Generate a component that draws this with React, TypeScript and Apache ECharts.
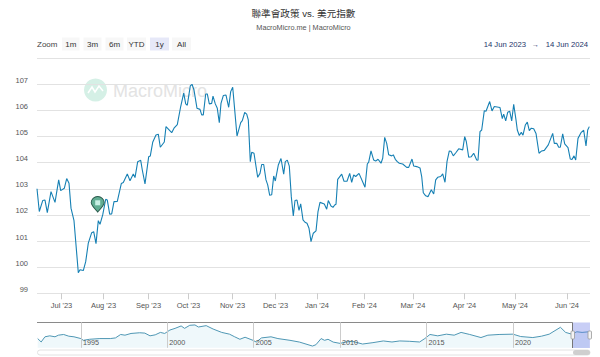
import React, { useEffect, useRef } from "react";
import * as echarts from "echarts";

const titleText = "聯準會政策 vs. 美元指數";
const subtitleText = "MacroMicro.me | MacroMicro";
const zoomButtons = ["1m", "3m", "6m", "YTD", "1y", "All"];
const rangeFrom = "14 Jun 2023";
const rangeTo = "14 Jun 2024";

// Ordinal trading-step position on the x axis and the DXY reading there
const steps = [0,2.3,5.7,8,10.3,14,18,21.7,23.7,27.3,29.7,32,34,37,41.3,43,46.3,48.7,51.3,54.7,56.7,59,61.3,63,65.7,68.7,70.3,72.7,74.7,77,80.3,84.3,86.3,90.3,93,96.3,98,100.7,103.7,105.3,108,111.7,113.3,115.7,119,121.3,123.3,127.3,129,134.7,137,140.3,143.7,146.7,148.7,150.3,153.3,155,157,160,163,164.7,166.3,168.7,170.3,172.3,174.7,176,178.3,180.3,182.3,184,186.3,189,191.7,193.7,195.7,197.7,200,203.7,205.3,207.7,209.7,211.3,213.3,214.7,217,220.7,223,224.7,226.7,229,230.7,232.7,234.7,236.7,238.3,241.3,244,246.7,248.3,250.3,252.3,254.3,256.3,258,260,262,263.7,266,268,270,272,274,276.3,279,281,283,287.3,289.7,291.3,294,296,297.7,299,300.7,304.7,307,310,312.7,314.7,316.7,318.7,322,328,330.3,331.7,334,336.7,338.7,341,344,345.7,347.7,349.7,351.7,354.7,356.3,358.3,360.3,362.3,365.7,369.7,371.7,375,376.7,379.7,383,384.7,386.3,388.7,391,394.3,396.7,398.7,400.7,403.7,405.7,408,410,412.3,414,416.3,419,421.7,425.7,427.7,429.3,431.7,434.3,436.7,439.7,441,443,444.7,447.3,449,452.7,455,457.3,463,465.3,466.7,468.7,470.7,472.7,474.7,476.7,479,480.3,482.3,484.3,486,488.3,490.3,492.3,494.3,496.7,499,502,504.7,507.3,511.3,515.7,517.3,519.7,521.7,523.3,525.7,527.7,531,533.3,535,537,538.7,541,544,546.7,549,550.7,552.3];
const dxy = [103,102.13,102.55,102.57,102.09,102.89,102.48,103.34,102.93,103.02,103.39,103.21,102.26,101.78,99.79,99.9,99.87,100.21,100.92,101.32,101.36,100.9,101.78,101.64,102,102.6,102.57,102.03,102.04,102.51,102.52,103.2,103.24,103.57,103.31,103.57,103.43,104.04,104.09,103.72,103.19,104.23,104.26,104.78,105.06,105.09,104.59,104.79,105.38,105.15,105.32,105.46,106.15,106.66,106.25,106.2,106.94,107,106.78,106.08,106.04,105.83,105.83,106.63,106.63,106.25,106.27,106.55,106.25,106.08,105.53,106.27,106.57,106.59,106.12,106.72,106.89,106.02,105.02,105.53,105.61,105.92,105.86,105.64,104.04,104.4,104.36,103.44,103.59,103.93,103.93,103.34,103.15,102.75,102.77,103.49,103.3,103.91,104.16,103.56,104.04,104.1,103.87,102.7,101.96,102.55,102.57,102.17,102.42,101.81,101.72,101.68,101.49,100.98,101.3,101.39,102.13,102.48,102.42,102.22,102.55,102.34,102.29,102.38,102.41,103.36,103.56,103.29,103.29,103.59,103.25,103.53,103.47,103.59,103.06,103.95,104.02,104.45,104.1,104.06,104.13,103.98,104.17,104.97,104.74,104.3,104.26,104.3,104.13,104.04,103.98,103.95,103.82,103.82,104.14,103.87,103.85,103.8,103.47,102.85,102.73,102.7,102.96,102.8,103.34,103.44,103.47,103.57,103.25,104.04,104.45,104.44,104.26,104.39,104.53,104.49,105,104.81,104.21,104.23,104.36,104.1,104.09,105.19,105.25,105.99,105.97,106.34,105.98,106.15,106.11,105.69,105.86,105.6,105.93,105.97,105.6,106.23,105.64,105.25,105.04,105.16,105.05,105.44,105.55,105.23,105.32,105.3,105.12,104.36,104.45,104.47,104.68,105.12,104.74,104.74,104.59,104.59,105.1,104.72,104.58,104.14,104.12,104.26,104.1,104.93,105.15,105.24,104.64,105.25,105.38];

const monthSteps = [24.5,66.5,111.5,151.5,195.5,238.5,280,327.5,376,427.5,478,530];
const monthLabels = ["Jul '23","Aug '23","Sep '23","Oct '23","Nov '23","Dec '23","Jan '24","Feb '24","Mar '24","Apr '24","May '24","Jun '24"];

// Long-run navigator series
const navYears = [1992.5,1992.7,1992.92,1993.2,1993.5,1993.7,1994,1994.3,1994.6,1995,1995.14,1995.5,1996.1,1996.7,1997,1997.3,1997.55,1997.9,1998.4,1998.7,1999,1999.3,1999.6,1999.85,2000.15,2000.45,2000.8,2001,2001.3,2001.6,2001.8,2002.25,2002.65,2003.15,2003.6,2003.9,2004.2,2004.5,2004.96,2005.15,2005.45,2006,2006.4,2007.1,2007.65,2008.4,2008.6,2008.9,2009.1,2009.3,2009.6,2010,2010.3,2010.7,2011.3,2011.9,2012.5,2013,2013.45,2014,2014.6,2014.9,2015.2,2015.65,2016.15,2016.6,2017,2017.5,2018.15,2018.55,2019.2,2020,2020.45,2021.15,2021.65,2022.1,2022.75,2023.05,2023.4,2023.7,2024,2024.4];
const navValues = [89,81.2,93,95.2,93,96.7,98.3,94.4,93,89,85,87.4,89,89,90.5,98.3,96.7,100.6,102.2,101.4,95.2,97.5,103,100.6,108.4,112.2,117.7,112.2,119.2,120,115.3,118.4,110.7,103,99,93,87.4,92,85,81,90.5,93,89,85,81,72,75,89,85,87.4,81,78,81,82.8,76.6,79.7,83.6,81.2,83.6,82.8,81.2,89,98.3,95.2,99,96.7,103,98.3,91.3,96.7,98.3,99,93.6,91.3,94.4,99,114.6,103,99,104.5,103,104.5];
const navTicks = [1995,2000,2005,2010,2015,2020];

const pinPath = "path://M8 0C3.6 0 0 3.5 0 7.8C0 11.5 5.5 17 8 20C10.5 17 16 11.5 16 7.8C16 3.5 12.4 0 8 0Z";
const FONT = '"Liberation Sans", Arial, sans-serif';
const CJK = '"Liberation Sans", "Noto Sans CJK TC", sans-serif';
const navy = "#26356b";

export default function App() {
  const ref = useRef<HTMLDivElement>(null);
  useEffect(() => {
    document.body.style.margin = "0";
    const chart = echarts.init(ref.current!, undefined, { renderer: "svg" });
    const btnX = [62, 83.5, 105.5, 127, 150, 172];
    const btnW = [17.5, 18, 18, 19, 19, 19];
    const buttons: any[] = [];
    zoomButtons.forEach((b, i) => {
      buttons.push({
        type: "rect", silent: true, z: 5,
        shape: { x: btnX[i], y: 37.5, width: btnW[i], height: 13 },
        style: { fill: b === "1y" ? "#e6e8f8" : "#f7f7f7" },
      });
      buttons.push({
        type: "text", silent: true, z: 6, x: btnX[i] + btnW[i] / 2, y: 44.5,
        style: { text: b, font: `8px ${FONT}`, fill: "#333", align: "center", verticalAlign: "middle" },
      });
    });
    chart.setOption({
      animation: false,
      title: {
        text: titleText,
        subtext: subtitleText,
        left: 298.5,
        textAlign: "center",
        top: 4,
        itemGap: 5,
        textStyle: { fontFamily: CJK, fontSize: 9.6, fontWeight: "normal", color: "#333" },
        subtextStyle: { fontFamily: FONT, fontSize: 7.3, color: "#555" },
      },
      grid: [
        { left: 37, width: 553, top: 84.3, height: 209 },
        { left: 37, width: 553, top: 322.3, height: 25.5 },
      ],
      xAxis: [
        {
          type: "value", gridIndex: 0, min: 0, max: 553,
          splitLine: { show: false },
          axisLine: { show: false },
          axisTick: { show: true, length: 6, lineStyle: { color: "#ccc" }, customValues: monthSteps },
          axisLabel: {
            show: true, customValues: monthSteps, margin: 8, fontSize: 7.5, fontFamily: FONT, color: "#555",
            hideOverlap: false, showMinLabel: true, showMaxLabel: true,
            formatter: (v: number) => monthLabels[monthSteps.indexOf(v)] ?? "",
          },
        },
        {
          type: "value", gridIndex: 1, min: 1992.46, max: 2024.46, z: 20,
          splitLine: { show: false },
          axisLine: { show: false },
          axisTick: { show: true, inside: true, length: 25.5, lineStyle: { color: "#ccc" }, customValues: navTicks },
          axisLabel: {
            show: true, inside: true, customValues: navTicks, margin: 1.5, fontSize: 7.2, fontFamily: FONT, color: "#555",
            align: "left", padding: [0, 0, 0, 2], formatter: (v: number) => String(v),
          },
        },
      ],
      yAxis: [
        {
          type: "value", gridIndex: 0, min: 99, max: 107, interval: 1,
          axisLine: { show: false }, axisTick: { show: false },
          axisLabel: { margin: 9, fontSize: 7.5, fontFamily: FONT, color: "#555", verticalAlign: "bottom" },
          splitLine: { lineStyle: { color: "#e2e2e2", width: 1 } },
        },
        {
          type: "value", gridIndex: 1, min: 68, max: 126,
          axisLine: { show: false }, axisTick: { show: false }, axisLabel: { show: false }, splitLine: { show: false },
        },
      ],
      series: [
        {
          type: "line", xAxisIndex: 0, yAxisIndex: 0, z: 3,
          data: steps.map((s, i) => [s, dxy[i]]),
          showSymbol: false, symbol: "none",
          lineStyle: { color: "#1680b4", width: 1.1 },
          markPoint: {
            silent: true,
            label: { show: false },
            data: [
              {
                coord: [60.7, 102.12], symbol: pinPath, symbolSize: [13, 15.5], symbolOffset: [0, -7.5],
                itemStyle: { color: "#62ad93", borderColor: "#2a5a4c", borderWidth: 1 },
              },
              {
                coord: [60.7, 102.12], symbol: "rect", symbolSize: [5, 5], symbolOffset: [0, -9],
                itemStyle: { color: "#c8efe4", borderWidth: 0 },
              },
            ],
          },
        },
        {
          type: "line", xAxisIndex: 1, yAxisIndex: 1, z: 3,
          data: navYears.map((y, i) => [y, navValues[i]]),
          showSymbol: false, symbol: "none",
          lineStyle: { color: "#4f97b4", width: 1 },
          areaStyle: { color: "#eff8fb", opacity: 1 },
        },
      ],
      graphic: [
        // watermark
        { type: "circle", silent: true, z: 0, shape: { cx: 95.5, cy: 90, r: 11.5 }, style: { fill: "#d5f0e6" } },
        { type: "polyline", silent: true, z: 1, shape: { points: [[88, 93], [92, 87], [95, 92], [99, 86], [103, 91]] }, style: { stroke: "#fff", lineWidth: 1.5, fill: "none" } },
        { type: "text", silent: true, z: 0, x: 113, y: 90.5, style: { text: "MacroMicro", font: `18px ${FONT}`, fill: "#e3e3e3", verticalAlign: "middle" } },
        // range selector
        { type: "text", silent: true, x: 37, y: 44.5, style: { text: "Zoom", font: `8px ${FONT}`, fill: "#444", verticalAlign: "middle" } },
        ...buttons,
        { type: "text", silent: true, x: 526, y: 44.5, style: { text: rangeFrom, font: `7.7px ${FONT}`, fill: navy, align: "right", verticalAlign: "middle" } },
        { type: "text", silent: true, x: 535.5, y: 44.5, style: { text: "→", font: `7px ${FONT}`, fill: navy, align: "center", verticalAlign: "middle" } },
        { type: "text", silent: true, x: 588, y: 44.5, style: { text: rangeTo, font: `7.7px ${FONT}`, fill: navy, align: "right", verticalAlign: "middle" } },
        { type: "line", silent: true, shape: { x1: 37, y1: 58.5, x2: 590, y2: 58.5 }, style: { stroke: "#e2e2e2", lineWidth: 1 } },
        { type: "line", silent: true, shape: { x1: 37, y1: 293.5, x2: 590, y2: 293.5 }, style: { stroke: "#d8d8d8", lineWidth: 1 } },
        // navigator
        { type: "line", silent: true, z: 8, shape: { x1: 37, y1: 322.5, x2: 572.5, y2: 322.5 }, style: { stroke: "#8a8a8a", lineWidth: 1 } },
        { type: "rect", silent: true, z: 8, shape: { x: 572.5, y: 322.5, width: 17.5, height: 25.5 }, style: { fill: "#6678e6", opacity: 0.36 } },
        { type: "line", silent: true, z: 8, shape: { x1: 572.5, y1: 322.5, x2: 572.5, y2: 348 }, style: { stroke: "#777", lineWidth: 1 } },
        { type: "rect", silent: true, z: 9, shape: { x: 571, y: 331, width: 3.5, height: 8, r: 1 }, style: { fill: "#f4f4f4", stroke: "#999", lineWidth: 0.8 } },
        { type: "rect", silent: true, z: 9, shape: { x: 588, y: 331, width: 3.5, height: 8, r: 1 }, style: { fill: "#f4f4f4", stroke: "#999", lineWidth: 0.8 } },
        { type: "rect", silent: true, z: 2, shape: { x: 37.5, y: 350, width: 552.5, height: 5, r: 2.5 }, style: { fill: "#fff", stroke: "#e2e2e2", lineWidth: 1 } },
        { type: "rect", silent: true, z: 3, shape: { x: 573, y: 350, width: 17, height: 5, r: 2.5 }, style: { fill: "#cfcfcf" } },
      ],
    });
    return () => chart.dispose();
  }, []);
  return <div ref={ref} style={{ position: "absolute", left: 0, top: 0, width: 600, height: 357 }} />;
}
